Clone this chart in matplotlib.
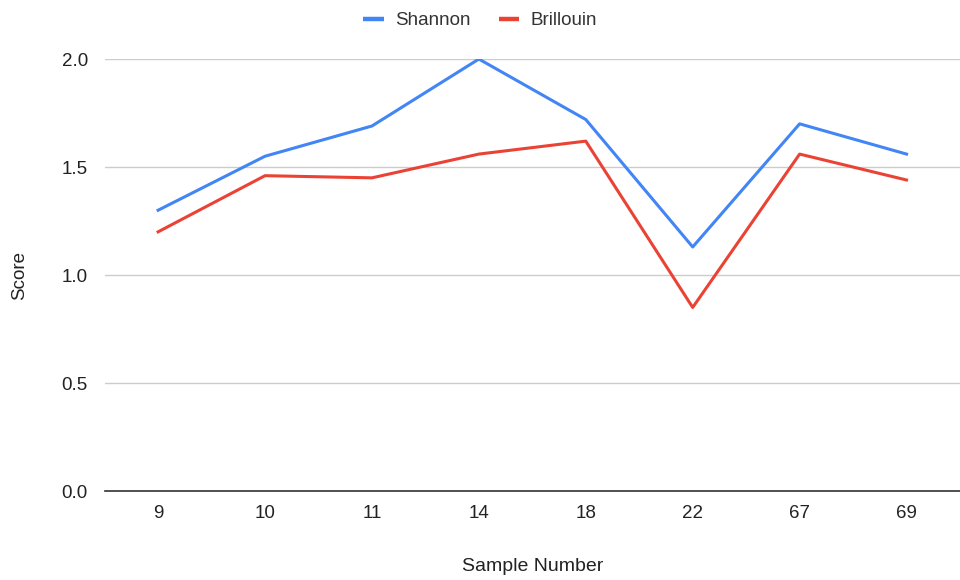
import matplotlib
matplotlib.use("Agg")
import matplotlib.pyplot as plt
import numpy as np

samples = ["9", "10", "11", "14", "18", "22", "67", "69"]
shannon = [1.30, 1.55, 1.69, 2.00, 1.72, 1.13, 1.70, 1.56]
brillouin = [1.20, 1.46, 1.45, 1.56, 1.62, 0.85, 1.56, 1.44]

plt.rcParams['font.family'] = ['Liberation Sans', 'DejaVu Sans']

fig = plt.figure(figsize=(9.6, 5.8), dpi=100)
ax = fig.add_axes([0.109, 0.1534, 0.891, 0.7448])

x = np.arange(len(samples))
ax.plot(x, shannon, color='#4285F4', linewidth=2.2, label='Shannon')
ax.plot(x, brillouin, color='#EA4335', linewidth=2.2, label='Brillouin')

ax.set_xlim(-0.5, len(samples) - 0.5)
ax.set_ylim(0, 2.0)
ax.set_yticks([0.0, 0.5, 1.0, 1.5, 2.0])
ax.set_yticklabels(['0.0', '0.5', '1.0', '1.5', '2.0'])
ax.set_xticks(x)
ax.set_xticklabels(samples)
ax.grid(axis='y', color='#cccccc', linewidth=1)
ax.set_axisbelow(True)
for side in ['top', 'right', 'left']:
    ax.spines[side].set_visible(False)
ax.spines['bottom'].set_color('#333333')
ax.spines['bottom'].set_linewidth(1.2)
ax.tick_params(axis='both', length=0, labelsize=13.5, colors='#222222')
ax.tick_params(axis='x', pad=10)
ax.tick_params(axis='y', pad=12)

ax.set_xlabel('Sample Number', fontsize=14, color='#222222', labelpad=26)
ax.set_ylabel('Score', fontsize=13.5, color='#222222', labelpad=24)

leg = fig.legend(loc='upper center', bbox_to_anchor=(0.5, 1.008), ncol=2, frameon=False,
                 fontsize=13.5, handlelength=1.1, columnspacing=1.5, handletextpad=0.6)
for text in leg.get_texts():
    text.set_color('#333333')
for line in leg.get_lines():
    line.set_linewidth(3.2)
    line.set_solid_capstyle('butt')

fig.savefig('out.png', dpi=100)
